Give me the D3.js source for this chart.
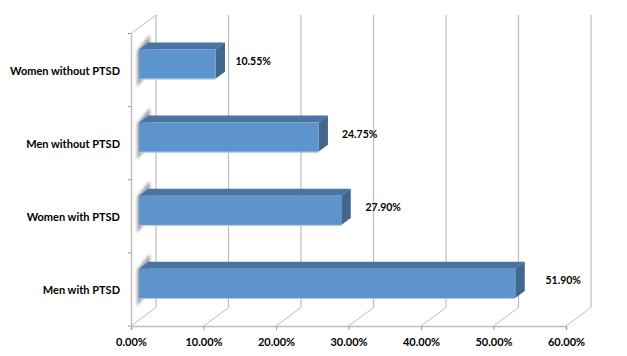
<!DOCTYPE html>
<html>
<head>
<meta charset="utf-8">
<script src="https://cdn.jsdelivr.net/npm/d3@7"></script>
<style>
  html, body { margin: 0; padding: 0; background: #fff; }
  text { font-family: Lato, "Open Sans", sans-serif; font-weight: 700; fill: #000; }
</style>
</head>
<body>
<div id="chart"></div>
<script>
const categories = ['Women without PTSD', 'Men without PTSD', 'Women with PTSD', 'Men with PTSD']
const shares = [10.55, 24.75, 27.9, 51.9]
const shareLabels = ['10.55%', '24.75%', '27.90%', '51.90%']
const ticks = [0, 10, 20, 30, 40, 50, 60]

const width = 627, height = 356
const plot = { left: 131, right: 566, top: 33.5, bottom: 326 }
const wall = { dx: 25, dy: -18.5 } // depth of the 3d box
const barOffset = { dx: 8, dy: -6 } // bars sit inside the box
const barDepth = { dx: 9.5, dy: -7 }
const gridColor = '#bcbcbc'

const svg = d3.select('#chart').append('svg')
  .attr('width', width)
  .attr('height', height)
  .style('display', 'block')

svg.append('defs').append('filter')
  .attr('id', 'soft')
  .attr('x', '-50%').attr('y', '-50%').attr('width', '200%').attr('height', '200%')
  .append('feGaussianBlur')
  .attr('stdDeviation', 1.7)

const x = d3.scaleLinear().domain([0, 60]).range([plot.left, plot.right])
const y = d3.scaleBand().domain(categories).range([plot.top, plot.bottom])
  .paddingInner(0.6).paddingOuter(0.3)
// tick marks sit on band edges, so a plain band scale is used for those
const yEdge = d3.scaleBand().domain(categories).range([plot.top, plot.bottom])
// value labels drift right of the bars, a bit more for the long ones
const labelX = d3.scaleLinear().domain([0, 60]).range([174, 624])

// back wall lines + floor diagonals
const grid = svg.append('g').attr('stroke', gridColor).attr('fill', 'none')
grid.selectAll('.back')
  .data(ticks)
  .join('line')
  .attr('x1', d => x(d) + wall.dx)
  .attr('x2', d => x(d) + wall.dx)
  .attr('y1', plot.top + wall.dy)
  .attr('y2', plot.bottom + wall.dy)
  .attr('stroke-width', 1.2)
grid.selectAll('.diag')
  .data(ticks)
  .join('line')
  .attr('x1', d => x(d))
  .attr('x2', d => x(d) + wall.dx)
  .attr('y1', plot.bottom)
  .attr('y2', plot.bottom + wall.dy)
grid.append('line')
  .attr('x1', plot.left).attr('x2', plot.left + wall.dx)
  .attr('y1', plot.top).attr('y2', plot.top + wall.dy)

// fuzzy shadows on the side wall
const bx = plot.left + barOffset.dx
svg.append('g').selectAll('path')
  .data(categories)
  .join('path')
  .attr('fill', '#a2a2a2')
  .attr('filter', 'url(#soft)')
  .attr('d', d => {
    const t = y(d) + barOffset.dy, b = t + y.bandwidth()
    return `M${bx - 2},${t + 1}L${bx + 11},${t - 15}L${bx + 11},${b - 8}L${bx - 2},${b + 8}Z`
  })

// axes
const xAxis = svg.append('g')
  .attr('transform', `translate(0,${plot.bottom})`)
  .call(d3.axisBottom(x).tickValues(ticks).tickFormat(d => d3.format('.2f')(d) + '%').tickSize(4).tickPadding(8))
xAxis.select('.domain').attr('stroke', gridColor).attr('stroke-width', 1.4)
xAxis.selectAll('.tick line').attr('stroke', '#999')
xAxis.selectAll('.tick text').style('font-size', '11px')

const yAxis = svg.append('g')
  .attr('transform', `translate(${plot.left},0)`)
  .call(d3.axisLeft(y).tickSize(0).tickPadding(11))
yAxis.select('.domain').attr('stroke', gridColor).attr('stroke-width', 1.4)
yAxis.selectAll('.tick text').style('font-size', '11px').attr('dy', '0.45em')
yAxis.selectAll('.edge')
  .data([...categories.map(c => yEdge(c)), plot.bottom])
  .join('line')
  .attr('x1', -3).attr('x2', 0)
  .attr('y1', d => d).attr('y2', d => d)
  .attr('stroke', '#999')

// bars
const bars = svg.append('g').selectAll('g')
  .data(categories.map((c, i) => ({ c, v: shares[i], label: shareLabels[i] })))
  .join('g')

const bar = d => {
  const x0 = bx
  const x1 = x(d.v) - plot.left + bx
  const t = y(d.c) + barOffset.dy
  return { x0, x1, t, b: t + y.bandwidth() }
}

bars.append('path')
  .attr('fill', '#4a74a3')
  .attr('d', d => {
    const r = bar(d)
    return `M${r.x0},${r.t}L${r.x0 + barDepth.dx},${r.t + barDepth.dy}L${r.x1 + barDepth.dx},${r.t + barDepth.dy}L${r.x1},${r.t}Z`
  })
bars.append('path')
  .attr('fill', '#41678f')
  .attr('d', d => {
    const r = bar(d)
    return `M${r.x1},${r.t}L${r.x1 + barDepth.dx},${r.t + barDepth.dy}L${r.x1 + barDepth.dx},${r.b + barDepth.dy}L${r.x1},${r.b}Z`
  })
bars.append('rect')
  .attr('fill', '#5c94cb')
  .attr('x', d => bar(d).x0)
  .attr('y', d => bar(d).t)
  .attr('width', d => bar(d).x1 - bar(d).x0)
  .attr('height', y.bandwidth())
bars.append('line')
  .attr('stroke', '#a9cbea')
  .attr('x1', d => bar(d).x0)
  .attr('x2', d => bar(d).x1)
  .attr('y1', d => bar(d).b + 0.5)
  .attr('y2', d => bar(d).b + 0.5)

bars.append('text')
  .attr('x', d => labelX(d.v))
  .attr('y', d => bar(d).t + y.bandwidth() / 2 - 3)
  .attr('dy', '0.35em')
  .attr('text-anchor', 'middle')
  .style('font-size', '10.5px')
  .text(d => d.label)
</script>
</body>
</html>
